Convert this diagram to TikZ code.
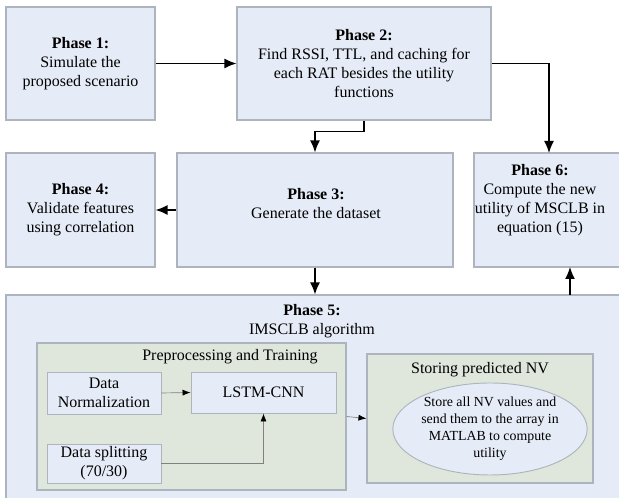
\documentclass[tikz,border=0pt]{standalone}
\usepackage{fontspec}
\setmainfont{Liberation Serif}
\newfontfamily\tnr{Liberation Serif}
\usetikzlibrary{arrows.meta,shapes.geometric,calc}
\definecolor{boxblue}{HTML}{E6ECF7}
\definecolor{boxgreen}{HTML}{DFE7DC}
\definecolor{edgegray}{HTML}{AEB4BE}
\tikzset{
  bluebox/.style={draw=edgegray, line width=0.8pt, fill=boxblue, inner sep=0pt},
  greenbox/.style={draw=edgegray, line width=0.8pt, fill=boxgreen, inner sep=0pt},
  smallbox/.style={draw=edgegray, line width=0.7pt, fill=boxblue, inner sep=0pt, align=center,
    font=\tnr\fontsize{12}{14.25}\selectfont},
  txt/.style={align=center, inner sep=0pt, font=\tnr\fontsize{12}{14.25}\selectfont},
  mainarrow/.style={line width=1.1pt, -{Latex[length=9pt,width=7.5pt]}},
  innerarrow/.style={draw=gray, line width=0.5pt, -{Latex[length=6pt,width=4.5pt,color=black]}},
}
\begin{document}
\begin{tikzpicture}[x=0.75pt,y=-0.75pt]
\clip (0,0) rectangle (619,498);
\fill[white] (0,0) rectangle (619,498);
% top row
\node[bluebox, txt, minimum width=111.75pt, minimum height=84.75pt] (p1) at (80.5,63.5)
  {\textbf{Phase 1:}\\Simulate the\\proposed scenario};
\node[bluebox, txt, minimum width=190.5pt, minimum height=84.75pt] (p2) at (364,63.5)
  {\textbf{Phase 2:}\\Find RSSI, TTL, and caching for\\each RAT besides the utility\\functions};
% middle row
\node[bluebox, txt, minimum width=111.75pt, minimum height=85.5pt] (p4) at (80.5,210)
  {\textbf{Phase 4:}\\Validate features\\using correlation};
\node[bluebox, minimum width=207pt, minimum height=85.5pt] (p3) at (315,210) {};
\node[txt] (p3t) at (316,204) {\textbf{Phase 3:}\\Generate the dataset};
\node[bluebox, minimum width=124.5pt, minimum height=85.5pt] (p6) at (557,210) {};
\node[txt] (p6t) at (540,200) {\textbf{Phase 6:}\\Compute the new\\utility of MSCLB in\\equation (15)};
% phase 5
\node[bluebox, minimum width=475.5pt, minimum height=168.75pt] (p5) at (323,407.5) {};
\node[txt] (p5t) at (312,321) {\textbf{Phase 5:}\\IMSCLB algorithm};
\node[greenbox, minimum width=231.75pt, minimum height=110.25pt] (pp) at (191.5,416.5) {};
\node[txt] (ppt) at (230,357) {Preprocessing and Training};
\node[smallbox, minimum width=85.5pt, minimum height=31.5pt] (dn) at (104,393) {Data\\Normalization};
\node[smallbox, minimum width=108.75pt, minimum height=30.75pt] (lstm) at (263.5,392.5) {LSTM-CNN};
\node[smallbox, minimum width=85.5pt, minimum height=29.25pt] (ds) at (104,463.5) {Data splitting\\(70/30)};
\node[greenbox, minimum width=169.5pt, minimum height=96.75pt] (st) at (480,418.5) {};
\node[txt] (stt) at (480,370) {Storing predicted NV};
\node[ellipse, draw=edgegray, line width=0.7pt, fill=boxblue, minimum width=139.5pt, minimum height=69pt,
  inner sep=0pt, align=center, font=\tnr\fontsize{10.4}{12.75}\selectfont] (el) at (490,429)
  {Store all NV values and\\send them to the array in\\MATLAB to compute\\utility};
% coordinates
\coordinate (c6) at (549,153);
\coordinate (c5a) at (570,295);
\coordinate (c5b) at (570,267);
% arrows
\draw[mainarrow] (p1.east) -- (p2.west);
\draw[mainarrow] (p2.east) -| (c6);
\draw[mainarrow] (p2.south) -- ++(0,11) -| (p3.north);
\draw[mainarrow] (p3.west) -- (p4.east);
\draw[mainarrow] (p3.south) -- (p3.south |- p5.north);
\draw[mainarrow] (c5a) -- (c5b);
\draw[innerarrow] (dn.east) -- (lstm.west);
\draw[innerarrow] (ds.east) -| (lstm.south);
\draw[innerarrow] (pp.east) -- (st.west);
\end{tikzpicture}
\end{document}
